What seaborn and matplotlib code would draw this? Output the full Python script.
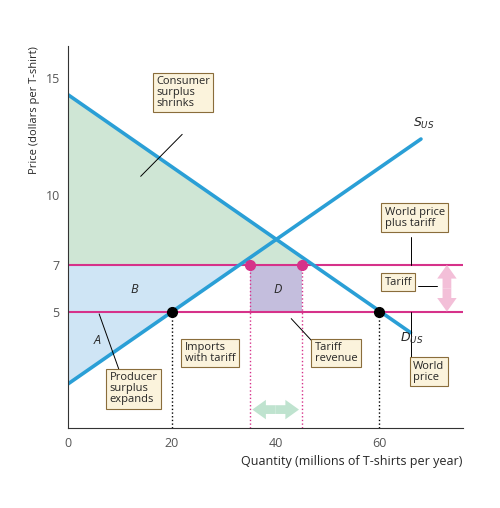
import numpy as np
import matplotlib
matplotlib.use("Agg")
import matplotlib.pyplot as plt
import seaborn as sns

sns.set_style("white")
plt.rcParams['font.family'] = ['Open Sans', 'DejaVu Sans']

supply_q = [0, 68]
supply_p = [1.9, 12.4]
demand_q = [0, 66]
demand_p = [14.3, 4.1]
world_price = 5
tariff_price = 7
q_dom_world, q_dom_tariff, q_dem_tariff, q_dem_world = 20, 35, 45, 60

blue = "#2a9fd6"; pink = "#d6328a"
fig, ax = plt.subplots(figsize=(5, 5.08), dpi=100)
fig.subplots_adjust(left=0.136, right=0.925, top=0.91, bottom=0.157)
ax.set_xlim(0, 76); ax.set_ylim(0, 16.4)

def S(q): return np.interp(q, supply_q, supply_p)
def D(q): return np.interp(q, demand_q, demand_p)
qs = np.linspace(0, q_dem_tariff, 100)
ax.fill_between(qs, tariff_price, D(qs), where=D(qs) >= tariff_price, color="#cfe6d5", lw=0)
qb = np.linspace(0, q_dom_tariff, 100)
ax.fill_between(qb, np.minimum(S(qb), tariff_price), tariff_price, color="#cfe5f5", lw=0)
ax.fill_between([q_dom_tariff, q_dem_tariff], world_price, tariff_price, color="#c4bedd", lw=0)

ax.axhline(tariff_price, color=pink, lw=1.5)
ax.axhline(world_price, color=pink, lw=1.5)
sns.lineplot(x=supply_q, y=supply_p, ax=ax, color=blue, lw=2.6)
sns.lineplot(x=demand_q, y=demand_p, ax=ax, color=blue, lw=2.6)
for q, c, p in [(q_dom_world, "k", world_price), (q_dem_world, "k", world_price),
                (q_dom_tariff, pink, tariff_price), (q_dem_tariff, pink, tariff_price)]:
    ax.plot([q, q], [0, p], ls=":", color=c, lw=1)
    ax.plot(q, p, "o", color=c, ms=7)

ax.set_xticks([0, 20, 40, 60]); ax.set_yticks([5, 7, 10, 15])
for t in ax.get_yticklabels():
    if t.get_text() == "7": t.set_color(pink)
ax.tick_params(labelsize=9, colors="#555", length=0, pad=6)
for s in ["top", "right"]: ax.spines[s].set_visible(False)
ax.spines["left"].set_color("#333"); ax.spines["bottom"].set_color("#333")
ax.set_xlabel("Quantity (millions of T-shirts per year)", fontsize=9, loc="right")
ax.set_ylabel("Price (dollars per T-shirt)", fontsize=8, loc="top")

box = dict(boxstyle="square,pad=0.3", fc="#fbf3dc", ec="#8a6d3b", lw=0.8)
def lab(x, y, s):
    ax.text(x, y, s, fontsize=8, va="top", ha="left", bbox=box, linespacing=1.0)
lab(17, 15.1, "Consumer\nsurplus\nshrinks"); ax.plot([22, 14], [12.6, 10.8], color="k", lw=0.7)
lab(61, 9.5, "World price\nplus tariff"); ax.plot([66, 66], [8.2, 7], color="k", lw=0.7)
lab(61, 6.5, "Tariff"); ax.plot([67.5, 71], [6.1, 6.1], color="k", lw=0.7)
lab(66.5, 2.9, "World\nprice"); ax.plot([66, 66], [3, 5], color="k", lw=0.7)
lab(8, 2.4, "Producer\nsurplus\nexpands"); ax.plot([10, 6], [2.4, 4.9], color="k", lw=0.7)
lab(22.5, 3.7, "Imports\nwith tariff")
lab(47.5, 3.7, "Tariff\nrevenue"); ax.plot([48, 43], [3.5, 4.7], color="k", lw=0.7)
ax.text(12, 5.8, "B", style="italic", fontsize=9)
ax.text(5, 3.6, "A", style="italic", fontsize=9)
ax.text(39.5, 5.8, "D", style="italic", fontsize=9)
ax.text(66.5, 12.9, "$S_{US}$", fontsize=9, style="italic")
ax.text(64, 3.7, "$D_{US}$", fontsize=9, style="italic")
arr = dict(arrowstyle="simple,head_width=1.0,head_length=0.7,tail_width=0.45",
           mutation_scale=14, lw=0, shrinkA=0, shrinkB=0)
def dbl(p0, p1, mid, c):
    ax.annotate("", xy=p0, xytext=mid, arrowprops=dict(color=c, **arr))
    ax.annotate("", xy=p1, xytext=mid, arrowprops=dict(color=c, **arr))
dbl((35.5, 0.8), (44.5, 0.8), (40, 0.8), "#bfe3cf")
dbl((73, 7.0), (73, 5.0), (73, 6.0), "#f3bfd8")
fig.savefig("out.png", dpi=100)
